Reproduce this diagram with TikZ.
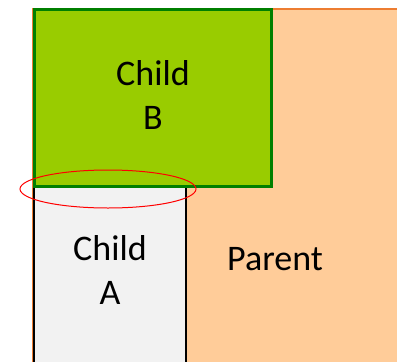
\documentclass[tikz,border=0pt]{standalone}
\usepackage{fontspec}
\setmainfont{Carlito}
\usetikzlibrary{shapes.geometric}
\definecolor{parentfill}{HTML}{FFCC99}
\definecolor{parentline}{HTML}{ED7D31}
\definecolor{childbfill}{HTML}{99CC00}
\definecolor{childbline}{HTML}{007F00}
\definecolor{childafill}{HTML}{F2F2F2}
\begin{document}
\begin{tikzpicture}[x=0.5pt,y=0.5pt,
  label text/.style={align=center,font=\fontsize{18}{22}\selectfont},
  parent box/.style={fill=parentfill,draw=parentline,line width=1pt},
  childa box/.style={fill=childafill,draw=black,line width=1.2pt},
  childb box/.style={fill=childbfill,draw=childbline,line width=1.5pt}]

  \useasboundingbox (0,0) rectangle (397,361);
  \begin{scope}
    \clip (0,0) rectangle (397,361);
    \draw[parent box] (33,352.5) rectangle (420,-20);
    \draw[childa box] (34,175) rectangle (186,-20);
    \draw[childb box] (34,352) rectangle (271,175);
  \end{scope}

  \node[label text] (childb) at (153,266.5) {Child\\B};
  \node[label text] (childa) at (110,91) {Child\\A};
  \node[label text,anchor=base] (parent) at (275,91) {Parent};

  \node[draw=red,line width=0.5pt,ellipse,minimum width=88pt,minimum height=19pt,inner sep=0pt] (overlap) at (108,172) {};

\end{tikzpicture}
\end{document}
